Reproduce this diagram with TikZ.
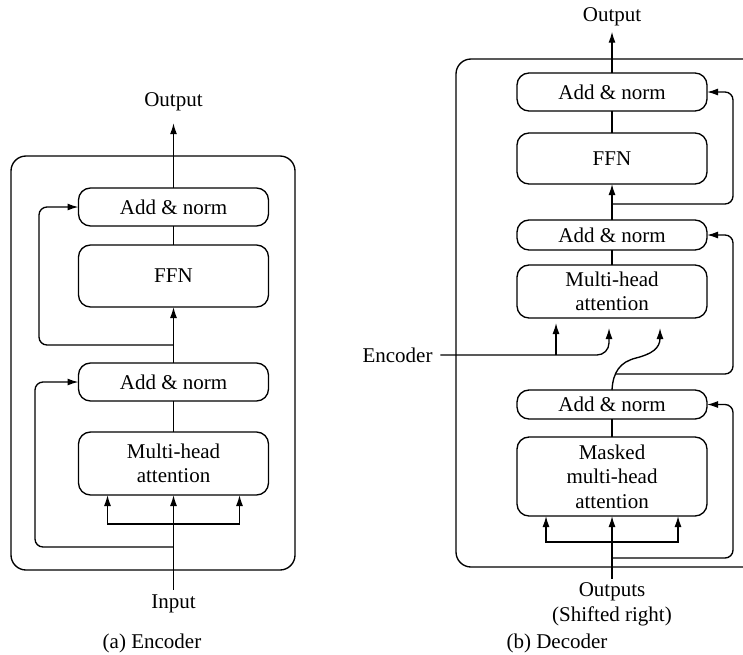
\documentclass[tikz,border=0pt]{standalone}
\usepackage{fontspec}
\setmainfont{Liberation Serif}
\usetikzlibrary{arrows.meta,calc}
\begin{document}
\begin{tikzpicture}[x=1pt,y=-1pt, line width=1.35pt,
  font=\fontsize{21}{24.5}\selectfont,
  blk/.style={draw, rounded corners=12pt, minimum width=190pt, align=center, inner sep=0pt, outer sep=0pt},
  lbl/.style={inner sep=0pt, outer sep=0pt, align=center},
  arr/.style={-{Latex[length=11pt,width=7pt]}},
  loopline/.style={arr, rounded corners=8pt}]
\useasboundingbox (0,0) rectangle (743,654);

% ---------------- Encoder ----------------
\draw[rounded corners=15pt] (11,156) rectangle (295,570);
\node[blk, minimum height=38pt] (eAN2) at (173.5,207) {Add \& norm};
\node[blk, minimum height=62pt] (eFFN) at (173.5,276) {FFN};
\node[blk, minimum height=38pt] (eAN1) at (173.5,382) {Add \& norm};
\node[blk, minimum height=63pt] (eMHA) at (173.5,463.5) {Multi-head\\attention};
\node[lbl] (eOut) at (173.5,102) {Output};
\node[lbl] (eIn) at (173.5,604) {Input};
\node[lbl] (eCap) at (152,643) {(a) Encoder};

\coordinate (eJ1) at (173.5,524);
\coordinate (eJ2) at (173.5,547);
\coordinate (eJ3) at (173.5,345);

\draw[arr, shorten >=12pt] (eAN2) -- (eOut);
\draw (eFFN) -- (eAN2);
\draw[arr] (eAN1) -- (eFFN);
\draw (eMHA) -- (eAN1);
\draw[arr, shorten <=5pt] (eIn) -- (eMHA);
\draw[arr] (eJ1) -| ($(eMHA.south)+(-66,0)$);
\draw[arr] (eJ1) -| ($(eMHA.south)+(66,0)$);
\draw[loopline] (eJ2) -| ($(eAN1.west)+(-43.5,0)$) -- (eAN1.west);
\draw[loopline] (eJ3) -| ($(eAN2.west)+(-39.5,0)$) -- (eAN2.west);

% ---------------- Decoder ----------------
\draw[rounded corners=15pt] (760,59) -- (456,59) -- (456,567) -- (760,567);
\node[blk, minimum height=38pt] (dAN3) at (612,92) {Add \& norm};
\node[blk, minimum height=51pt] (dFFN) at (612,158.5) {FFN};
\node[blk, minimum height=30pt] (dAN2) at (612,235) {Add \& norm};
\node[blk, minimum height=53pt] (dMHA) at (612,291.5) {Multi-head\\attention};
\node[blk, minimum height=29pt] (dAN1) at (612,404.5) {Add \& norm};
\node[blk, minimum height=79pt] (dMMHA) at (612,476.5) {Masked\\multi-head\\attention};
\node[lbl] (dOut) at (612,16.5) {Output};
\node[lbl] (dIn) at (612,604.5) {Outputs\\(Shifted right)};
\node[lbl] (enc) at (397.5,355) {Encoder};
\node[lbl] (dCap) at (557,643) {(b) Decoder};

\coordinate (dJ3) at (612,204);
\coordinate (dEB) at (556,355);
\coordinate (dS) at (615.5,374);
\coordinate (dJ1) at (612,542);
\coordinate (dJ0) at (612,558);

\draw[arr, shorten >=6pt] (dAN3) -- (dOut);
\draw (dFFN) -- (dAN3);
\draw[arr] (dAN2) -- (dFFN);
\draw[loopline] (dJ3) -| ($(dAN3.east)+(26,0)$) -- (dAN3.east);
\draw (dMHA) -- (dAN2);
\draw[arr, rounded corners=12pt, shorten <=8pt] (enc.east) -| ($(dMHA.south)+(-3,10)$);
\draw[arr, shorten >=5pt] (dEB) -- (dEB |- dMHA.south);
\draw[arr] (dAN1.north) .. controls (613,372) and (620,362) .. (636,358)
  .. controls (652,354) and (660,348) .. ($(dMHA.south)+(48,10)$);
\draw[loopline] (dS) -| ($(dAN2.east)+(26,0)$) -- (dAN2.east);
\draw (dMMHA) -- (dAN1);
\draw[arr, shorten <=4pt] (dIn) -- (dMMHA);
\draw[arr] (dJ1) -| ($(dMMHA.south)+(-66,0)$);
\draw[arr] (dJ1) -| ($(dMMHA.south)+(66,0)$);
\draw[loopline] (dJ0) -| ($(dAN1.east)+(26,0)$) -- (dAN1.east);
\end{tikzpicture}
\end{document}
